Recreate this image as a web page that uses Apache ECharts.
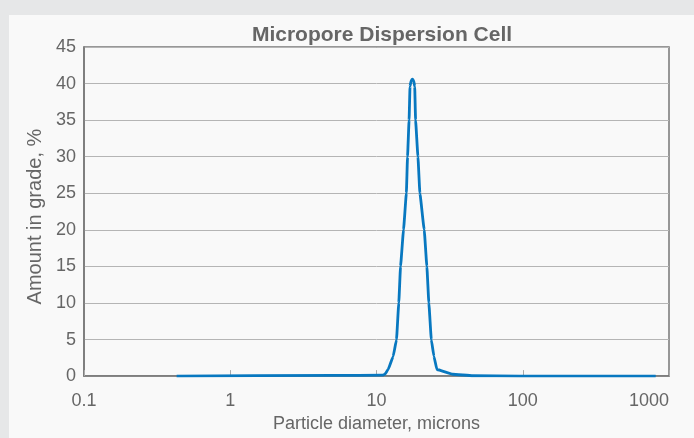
<!DOCTYPE html>
<html>
<head>
<meta charset="utf-8">
<script src="https://cdn.jsdelivr.net/npm/echarts@6/dist/echarts.min.js"></script>
<style>
  html, body { margin: 0; padding: 0; background: #e6e7e8; }
  #wrap { position: relative; width: 694px; height: 438px; background: #e6e7e8; overflow: hidden; }
  #panel { position: absolute; left: 9px; top: 15px; right: 0; bottom: 0; background: #f9f9f9; }
  #main { position: absolute; left: 0; top: 0; width: 694px; height: 438px; }
</style>
</head>
<body>
<div id="wrap">
  <div id="panel"></div>
  <div id="main"></div>
</div>
<script>
// 粒径 (microns) 与含量 (%)
var diameters = [0.43, 5.2, 11.0, 11.4, 12.0, 13.0, 13.7, 14.2, 14.6, 15.3, 16.0, 16.3, 16.7, 16.95, 17.25, 17.6, 17.95, 18.25, 18.5, 19.2, 19.8, 21.2, 22.1, 22.8, 23.7, 24.7, 25.9, 33.2, 45.5, 95, 811];
var amounts   = [0,    0.1, 0.12, 0.25, 0.9,  2.7,  5,    10,   15,   20,   25,   30,   35,   39.6,  40.4,  40.6, 40.4,  39.6,  35,   30,   25,   20,   15,   10,   5,    2.7,  0.9,  0.25, 0.05, 0,  0];
var yTicks = [0, 5, 10, 15, 20, 25, 30, 35, 40, 45];

var points = diameters.map(function (d, i) { return [d, amounts[i]]; });

var myChart = echarts.init(document.getElementById('main'));
myChart.setOption({
    backgroundColor: 'transparent',
    animation: false,
    title: {
        text: 'Micropore Dispersion Cell',
        left: 377,
        top: 20,
        textAlign: 'center',
        textStyle: {
            fontFamily: 'Liberation Sans',
            fontSize: 21,
            fontWeight: 'bold',
            color: '#666'
        }
    },
    grid: {
        left: 84,
        right: 25,
        top: 47,
        bottom: 55,
        show: true,
        borderColor: '#777',
        borderWidth: 1.5,
        backgroundColor: 'transparent'
    },
    xAxis: {
        type: 'log',
        logBase: 10,
        min: 0.1,
        max: 1000,
        name: 'Particle diameter, microns',
        nameLocation: 'middle',
        nameGap: 38,
        nameTextStyle: { fontFamily: 'Liberation Sans', fontSize: 18, color: '#666' },
        axisLine: { lineStyle: { color: '#777', width: 1.5 } },
        axisTick: { show: true, inside: true, length: 6, lineStyle: { color: '#aaa' } },
        minorTick: { show: false },
        splitLine: { show: false },
        axisLabel: {
            fontFamily: 'Liberation Sans',
            fontSize: 18,
            color: '#666',
            margin: 16,
            alignMaxLabel: 'right',
            formatter: function (v) { return String(+v.toPrecision(3)); }
        }
    },
    yAxis: {
        type: 'value',
        min: yTicks[0],
        max: yTicks[yTicks.length - 1],
        interval: 5,
        name: 'Amount in grade, %',
        nameLocation: 'middle',
        nameGap: 36,
        nameTextStyle: { fontFamily: 'Liberation Sans', fontSize: 20, color: '#666', padding: [0, 10, 0, 0] },
        axisLine: { show: true, lineStyle: { color: '#777', width: 1.5 } },
        axisTick: { show: false },
        splitLine: { lineStyle: { color: '#b5b5b5', width: 1 } },
        axisLabel: {
            fontFamily: 'Liberation Sans',
            fontSize: 18,
            color: '#666',
            margin: 8
        }
    },
    series: [{
        name: 'Amount',
        type: 'line',
        data: points,
        showSymbol: false,
        smooth: 0.1,
        smoothMonotone: 'x',
        lineStyle: { color: '#0878c0', width: 2.8 }
    }]
});
</script>
</body>
</html>
